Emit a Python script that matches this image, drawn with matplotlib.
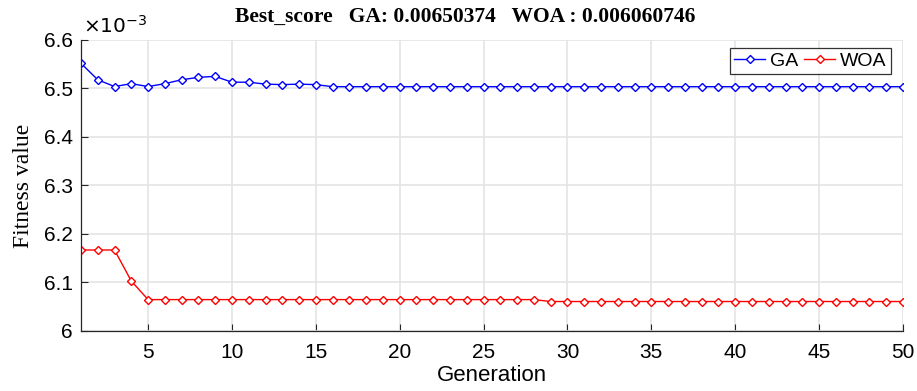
import matplotlib
matplotlib.use("Agg")
import matplotlib.pyplot as plt
from matplotlib.ticker import FuncFormatter, FixedLocator

generations = list(range(1, 51))
ga_fitness = [0.006552, 0.006518, 0.006504, 0.006510, 0.006504, 0.006510, 0.006518,
              0.006523, 0.006525, 0.006513, 0.006513, 0.006509, 0.006508, 0.006509,
              0.006508] + [0.00650374] * 35
woa_fitness = [0.006167, 0.006167, 0.006167, 0.006103] + [0.0060647] * 24 + [0.006060746] * 22

x_ticks = [5, 10, 15, 20, 25, 30, 35, 40, 45, 50]
y_ticks = [0.0060, 0.0061, 0.0062, 0.0063, 0.0064, 0.0065, 0.0066]

fig = plt.figure(figsize=(9.17, 3.91), dpi=100)
ax = fig.add_axes([0.0883, 0.1535, 0.8964, 0.7442])

ax.plot(generations, ga_fitness, color='#0000ff', lw=1.0, marker='D', ms=4.5,
        mfc='white', mec='#0000ff', mew=1.0, label='GA')
ax.plot(generations, woa_fitness, color='#ff0000', lw=1.0, marker='D', ms=4.5,
        mfc='white', mec='#ff0000', mew=1.0, label='WOA')

ax.set_xlim(1, 50)
ax.set_ylim(0.0060, 0.0066)
ax.xaxis.set_major_locator(FixedLocator(x_ticks))
ax.yaxis.set_major_locator(FixedLocator(y_ticks))
ax.yaxis.set_major_formatter(FuncFormatter(lambda v, p: f"{v*1000:g}"))

sans = ['Liberation Sans', 'DejaVu Sans']
serif = ['Liberation Serif', 'DejaVu Serif']
for lab in ax.get_xticklabels() + ax.get_yticklabels():
    lab.set_family(sans)
ax.tick_params(axis='both', direction='in', labelsize=15, length=5, width=0.8,
               colors='#262626', labelcolor='black')
ax.tick_params(axis='x', pad=9)
ax.tick_params(axis='y', pad=6)

ax.grid(True, color='#e4e4e4', lw=1.2)
ax.set_axisbelow(True)
for s in ['top', 'right']:
    ax.spines[s].set_visible(False)
for s in ['left', 'bottom']:
    ax.spines[s].set_color('#262626')
    ax.spines[s].set_linewidth(0.9)

ax.set_xlabel('Generation', family=sans, fontsize=16, labelpad=2)
ax.set_ylabel('Fitness value', family=serif, fontsize=17, labelpad=7)
ax.set_title('Best_score   GA: 0.00650374   WOA : 0.006060746', family=serif,
             fontweight='bold', fontsize=15.5, x=0.467, pad=13)
ax.text(0.003, 1.012, r'$\times10^{-3}$', transform=ax.transAxes, fontsize=14.5,
        family=sans, ha='left', va='bottom')

leg = ax.legend(loc='upper right', ncol=2, prop={'family': sans, 'size': 14},
                frameon=True, fancybox=False, edgecolor='black', borderpad=0.2,
                handlelength=1.6, columnspacing=0.3, handletextpad=0.25,
                numpoints=1, borderaxespad=0.0, bbox_to_anchor=(0.985, 0.971))
leg.get_frame().set_linewidth(0.9)

fig.savefig('out.png', dpi=100)
